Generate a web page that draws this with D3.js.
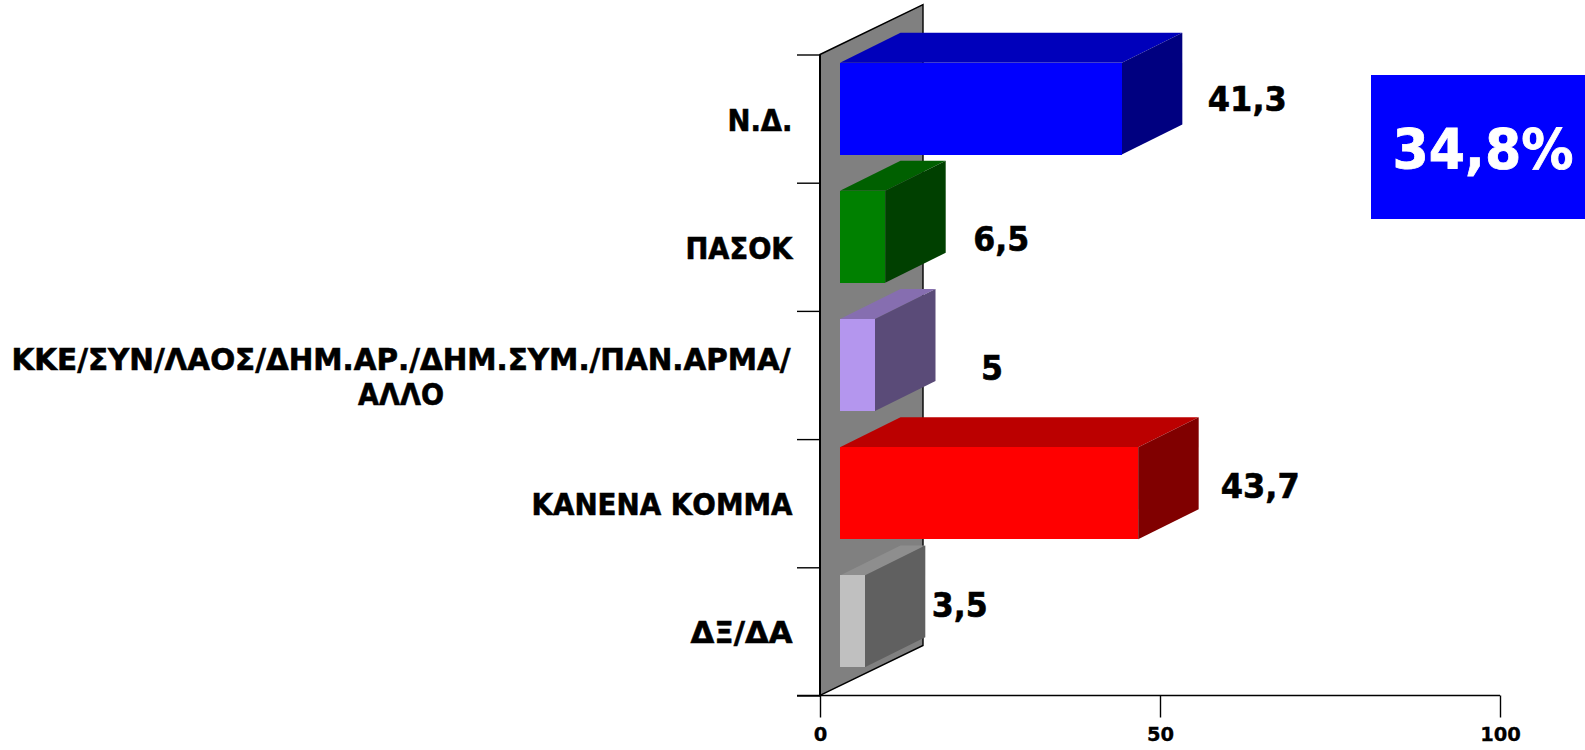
<!DOCTYPE html>
<html>
<head>
<meta charset="utf-8">
<script src="https://d3js.org/d3.v7.min.js"></script>
<style>
body { margin:0; background:#fff; }
text { font-family:"DejaVu Sans"; font-weight:bold; fill:#000; stroke:#000; stroke-width:0.6px; }
</style>
</head>
<body>
<script>
var categories = [["Ν.Δ."], ["ΠΑΣΟΚ"], ["ΚΚΕ/ΣΥΝ/ΛΑΟΣ/ΔΗΜ.ΑΡ./ΔΗΜ.ΣΥΜ./ΠΑΝ.ΑΡΜΑ/", "ΑΛΛΟ"], ["ΚΑΝΕΝΑ ΚΟΜΜΑ"], ["ΔΞ/ΔΑ"]];
var values = [41.3, 6.5, 5, 43.7, 3.5];
var xTicks = [0, 50, 100];
var boxText = "34,8%";

var frontColors = ["#0000ff", "#008000", "#b496ee", "#ff0000", "#c0c0c0"];
var topColors = ["#0000bb", "#006000", "#866eb0", "#bb0000", "#8e8e8e"];
var sideColors = ["#000080", "#004000", "#5a4b78", "#800000", "#606060"];

// hand placed in the original, relative to the end of each bar
var labelDx = [146.5, 137, 138, 143, 116];
var labelY = [111, 251, 380, 498, 617];
var labelLen = [79, 56, 22, 79, 56];
// the original font runs a bit narrower than DejaVu, so fit the widths
var catLen = [[65], [107], [779, 86], [261], [102]];

var width = 1585, height = 750;
var x0 = 820, x1 = 1500, y0 = 54.5, y1 = 695.5;
var wallDx = 103, wallDy = 50;   // depth of the back wall
var barDx = 60.5, barDy = 30;    // depth of a bar
var offX = 20, offY = 10;        // bars sit a little inside the wall

var x = d3.scaleLinear().domain([0, 100]).range([x0, x1]);
var yTick = d3.scaleLinear().domain([0, categories.length]).range([y0, y1]);
var yBar = d3.scaleBand().domain(d3.range(categories.length))
    .range([y0 - offY, y1 - offY])
    .paddingInner(0.283).paddingOuter(0.1415);

var svg = d3.select("body").append("svg")
    .attr("width", width)
    .attr("height", height)
    .style("display", "block");

// back wall
svg.append("polygon")
    .attr("points", [[x0, y0], [x0 + wallDx, y0 - wallDy], [x0 + wallDx, y1 - wallDy], [x0, y1]].join(" "))
    .attr("fill", "#808080")
    .attr("stroke", "#000")
    .attr("stroke-width", 1.4);
svg.append("line").attr("x1", x0).attr("x2", x0).attr("y1", y0).attr("y2", y1)
    .attr("stroke", "#000").attr("stroke-width", 2);

// axes
var xAxis = d3.axisBottom(x).tickValues(xTicks).tickSize(22).tickSizeOuter(0).tickFormat(d3.format("d"));
var gx = svg.append("g").attr("transform", "translate(0," + y1 + ")").call(xAxis);
gx.select(".domain").remove();
gx.selectAll("line").attr("stroke", "#000").attr("stroke-width", 1.4);
gx.selectAll("text").attr("y", 45).attr("dy", null).style("font-size", "19.5px").style("stroke-width", "0.3px");
svg.append("line").attr("x1", x0 - 23).attr("x2", x1).attr("y1", y1).attr("y2", y1)
    .attr("stroke", "#000").attr("stroke-width", 1.4);

var yAxis = d3.axisLeft(yTick).ticks(categories.length).tickSize(23).tickSizeOuter(0).tickFormat("");
var gy = svg.append("g").attr("transform", "translate(" + x0 + ",0)").call(yAxis);
gy.select(".domain").remove();
gy.selectAll("line").attr("stroke", "#000").attr("stroke-width", 1.4);

// bars
var barEnd = function(d) { return x(d) + offX + 1; };
var bar = svg.append("g").selectAll("g")
    .data(values)
    .enter().append("g");

bar.append("polygon")
    .attr("fill", function(d, i) { return topColors[i]; })
    .attr("points", function(d, i) {
        var l = x(0) + offX, r = barEnd(d), t = yBar(i);
        return [[l, t], [l + barDx, t - barDy], [r + barDx, t - barDy], [r, t]].join(" ");
    });
bar.append("polygon")
    .attr("fill", function(d, i) { return sideColors[i]; })
    .attr("points", function(d, i) {
        var r = barEnd(d), t = yBar(i), b = t + yBar.bandwidth();
        return [[r, t], [r + barDx, t - barDy], [r + barDx, b - barDy], [r, b]].join(" ");
    });
bar.append("rect")
    .attr("fill", function(d, i) { return frontColors[i]; })
    .attr("shape-rendering", "crispEdges")
    .attr("x", x(0) + offX)
    .attr("y", function(d, i) { return yBar(i); })
    .attr("width", function(d) { return barEnd(d) - x(0) - offX; })
    .attr("height", yBar.bandwidth());

// value labels
bar.append("text")
    .attr("x", function(d, i) { return x(d) + labelDx[i]; })
    .attr("y", function(d, i) { return labelY[i]; })
    .attr("text-anchor", "middle")
    .attr("textLength", function(d, i) { return labelLen[i]; })
    .attr("lengthAdjust", "spacingAndGlyphs")
    .style("font-size", "34px")
    .text(function(d) { return String(d).replace(".", ","); });

// category labels
var catLabelX = [792.5, 792.5, 401, 792.5, 792.5];
svg.append("g").selectAll("text")
    .data(categories)
    .enter().append("text")
    .attr("text-anchor", function(d) { return d.length > 1 ? "middle" : "end"; })
    .style("font-size", "29.5px")
    .each(function(d, i) {
        var mid = yTick(i + 0.5);
        d3.select(this).selectAll("tspan")
            .data(d)
            .enter().append("tspan")
            .attr("x", catLabelX[i])
            .attr("y", function(s, j) { return mid + 12 + (j - (d.length - 1) / 2) * 35; })
            .attr("textLength", function(s, j) { return catLen[i][j]; })
            .attr("lengthAdjust", "spacingAndGlyphs")
            .text(function(s) { return s; });
    });

// highlighted box
svg.append("rect")
    .attr("x", 1371).attr("y", 75)
    .attr("width", width - 1371).attr("height", 144)
    .attr("fill", "#0000ff");
svg.append("text")
    .attr("x", 1483).attr("y", 168)
    .attr("text-anchor", "middle")
    .attr("textLength", 181)
    .attr("lengthAdjust", "spacingAndGlyphs")
    .style("font-size", "55px")
    .style("fill", "#fff")
    .style("stroke", "#fff")
    .style("stroke-width", "0.8px")
    .text(boxText);
</script>
</body>
</html>
